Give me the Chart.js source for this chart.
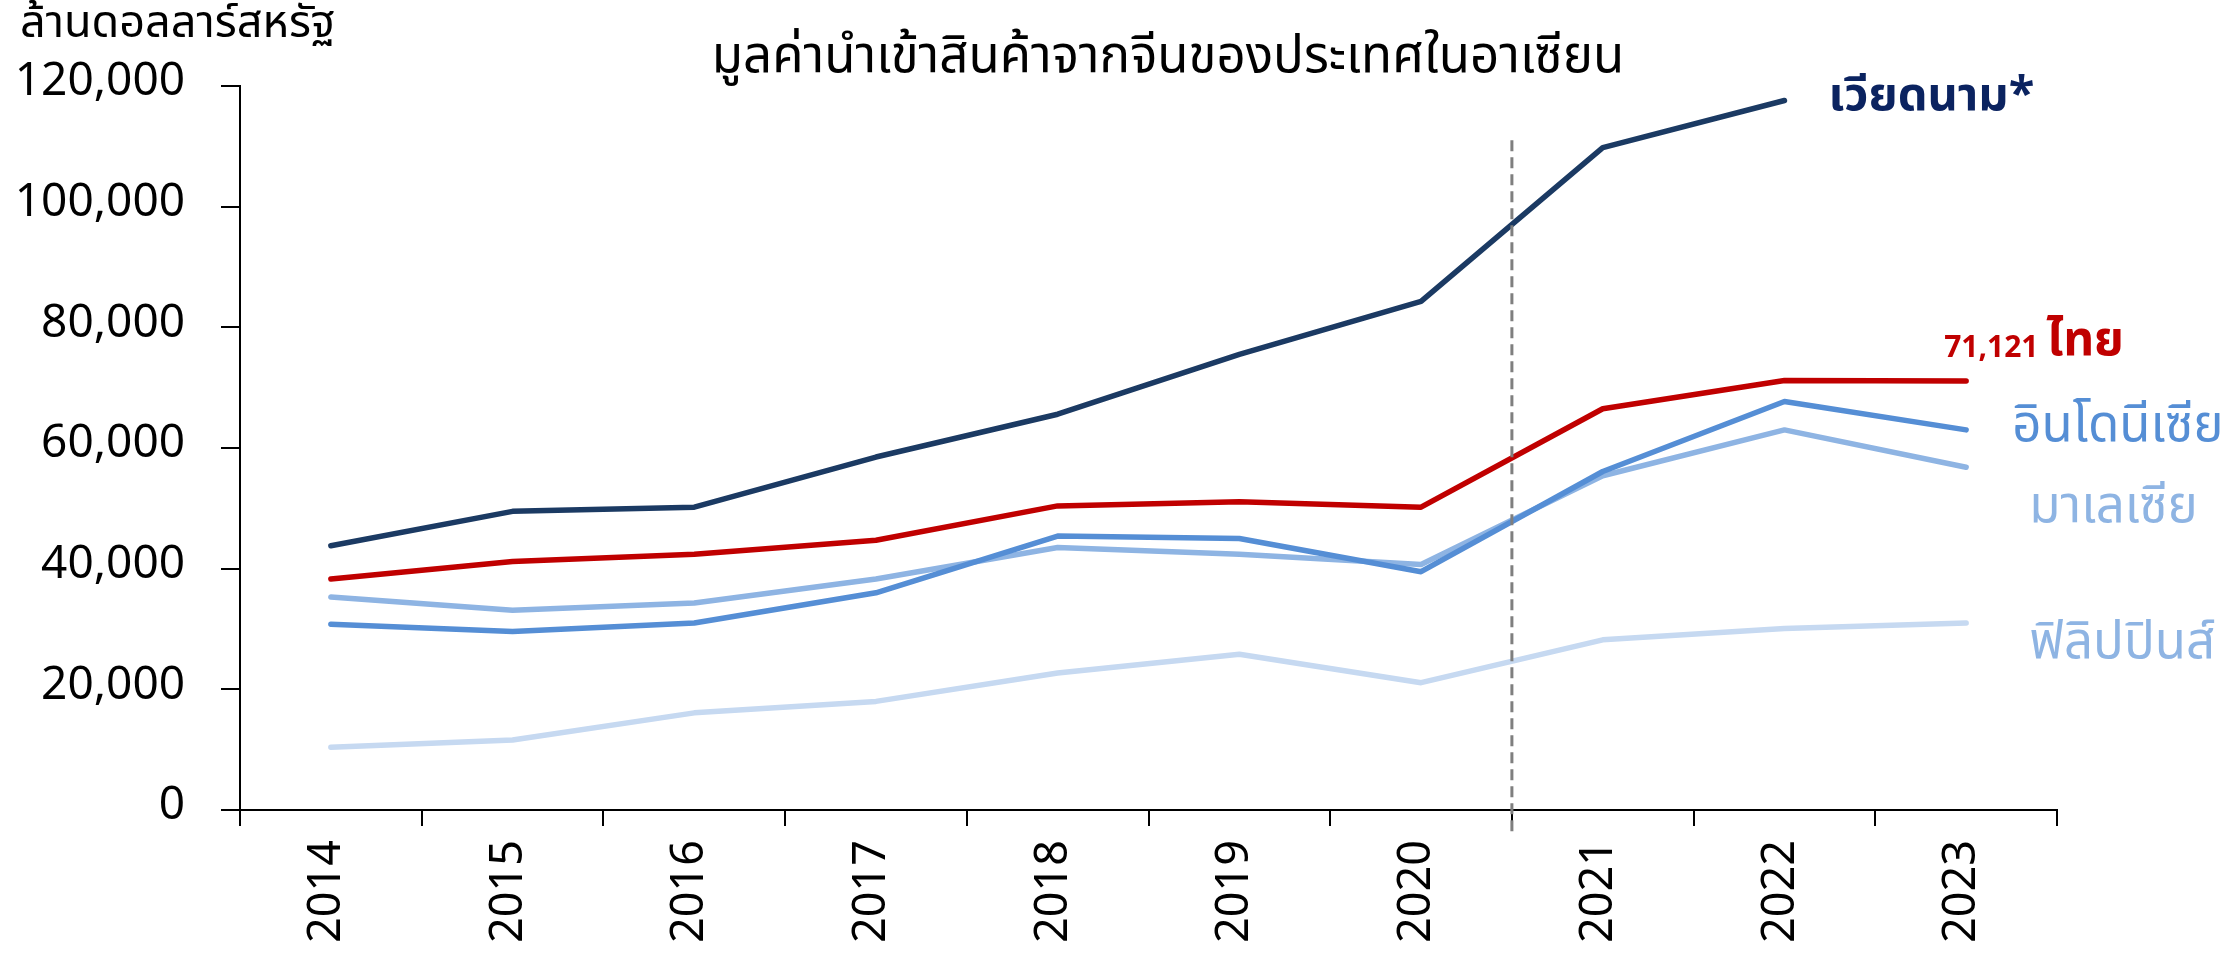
<!DOCTYPE html>
<html>
<head>
<meta charset="utf-8">
<script src="https://cdn.jsdelivr.net/npm/chart.js@4"></script>
<style>
  html, body { margin: 0; padding: 0; background: #fff; }
  canvas { display: block; }
</style>
</head>
<body>
<canvas id="chart" width="2240" height="956"></canvas>
<script>
// Data

const years = ['2014','2015','2016','2017','2018','2019','2020','2021','2022','2023'];

// million USD
const vietnam     = [43800, 49500, 50200, 58500, 65600, 75500, 84300, 109800, 117600, null];
const thailand    = [38300, 41200, 42400, 44700, 50400, 51100, 50200, 66500, 71200, 71121];
const indonesia   = [30800, 29600, 31000, 36000, 45400, 45000, 39500, 56100, 67700, 63000];
const malaysia    = [35300, 33100, 34300, 38300, 43500, 42400, 40700, 55400, 63000, 56800];
const philippines = [10400, 11600, 16100, 18000, 22700, 25800, 21100, 28200, 30100, 31000];

const yTicks = [0, 20000, 40000, 60000, 80000, 100000, 120000];

const titleText = 'มูลค่านำเข้าสินค้าจากจีนของประเทศในอาเซียน';
const unitText  = 'ล้านดอลลาร์สหรัฐ';
const thaiLastValue = '71,121';

// Styles

const FONT = "'Noto Sans Thai', 'Noto Sans', sans-serif";

const series = [
  { label: 'เวียดนาม*',   data: vietnam,     color: '#1b3a63', text: '#0b2360', bold: true,  size: 47, dx: 44, dy: 0 },
  { label: 'อินโดนีเซีย', data: indonesia,   color: '#558ed5', text: '#558ed5', bold: false, size: 51, dx: 46, dy: 1 },
  { label: 'มาเลเซีย',    data: malaysia,    color: '#8eb4e3', text: '#8eb4e3', bold: false, size: 51, dx: 63, dy: 44 },
  { label: 'ฟิลิปปินส์',  data: philippines, color: '#c6d9f1', text: '#8eb4e3', bold: false, size: 51, dx: 63, dy: 25 },
  { label: 'ไทย',         data: thailand,    color: '#c00000', text: '#c00000', bold: true,  size: 48, dx: 0,  dy: 0 }
];

// Plugins

const decorations = {
  id: 'decorations',
  afterDatasetsDraw(chart) {
    const { ctx, chartArea, scales: { x, y } } = chart;
    ctx.save();

    // dashed divider between 2020 and 2021
    const xd = (x.getPixelForValue(6) + x.getPixelForValue(7)) / 2;
    ctx.strokeStyle = '#7f7f7f';
    ctx.lineWidth = 3;
    ctx.setLineDash([11, 6]);
    ctx.beginPath();
    ctx.moveTo(xd, y.getPixelForValue(111000));
    ctx.lineTo(xd, chartArea.bottom + 26);
    ctx.stroke();
    ctx.setLineDash([]);

    // title + unit
    ctx.fillStyle = '#000';
    ctx.textBaseline = 'middle';
    ctx.textAlign = 'center';
    ctx.font = `51px ${FONT}`;
    ctx.fillText(titleText, 1168, 62);
    ctx.textAlign = 'left';
    ctx.font = `45px ${FONT}`;
    ctx.fillText(unitText, 20, 28);

    // end labels
    chart.data.datasets.forEach((ds, i) => {
      const s = series[i];
      let last = ds.data.length - 1;
      while (ds.data[last] == null) last--;
      const px = x.getPixelForValue(last);
      const py = y.getPixelForValue(ds.data[last]);
      ctx.fillStyle = s.text;
      if (s.label === 'ไทย') {
        ctx.font = `bold 30px ${FONT}`;
        ctx.fillText(thaiLastValue, px - 22, py - 30);
        const w = ctx.measureText(thaiLastValue).width;
        ctx.font = `bold ${s.size}px ${FONT}`;
        ctx.fillText(s.label, px - 22 + w + 8, py - 36);
      } else {
        ctx.font = `${s.bold ? 'bold ' : ''}${s.size}px ${FONT}`;
        ctx.fillText(s.label, px + s.dx, py + s.dy);
      }
    });
    ctx.restore();
  }
};

// Chart

new Chart(document.getElementById('chart'), {
  type: 'line',
  data: {
    labels: years,
    datasets: series.map(s => ({
      label: s.label,
      data: s.data,
      borderColor: s.color,
      backgroundColor: s.color,
      borderWidth: 5.5,
      borderCapStyle: 'round',
      borderJoinStyle: 'round',
      pointRadius: 0,
      tension: 0,
      spanGaps: false
    }))
  },
  options: {
    responsive: false,
    devicePixelRatio: 1,
    animation: false,
    layout: { padding: { top: 86, right: 183, bottom: 0, left: 0 } },
    plugins: { legend: { display: false }, tooltip: { enabled: false } },
    scales: {
      x: {
        offset: true,
        grid: { drawOnChartArea: false, offset: true, tickLength: 16, color: '#000', lineWidth: 2 },
        border: { color: '#000', width: 2 },
        ticks: { color: '#000', font: { family: FONT, size: 45 }, minRotation: 90, maxRotation: 90, padding: 14 },
        afterFit: s => { s.height = 146; }
      },
      y: {
        min: 0,
        max: 120000,
        afterBuildTicks: s => { s.ticks = yTicks.map(v => ({ value: v })); },
        grid: { drawOnChartArea: false, tickLength: 19, color: '#000', lineWidth: 2 },
        border: { color: '#000', width: 2 },
        ticks: {
          color: '#000',
          font: { family: FONT, size: 46 },
          padding: 36,
          callback: v => v.toLocaleString('en-US')
        },
        afterFit: s => { s.width = 240; }
      }
    }
  },
  plugins: [decorations]
});
</script>
</body>
</html>
